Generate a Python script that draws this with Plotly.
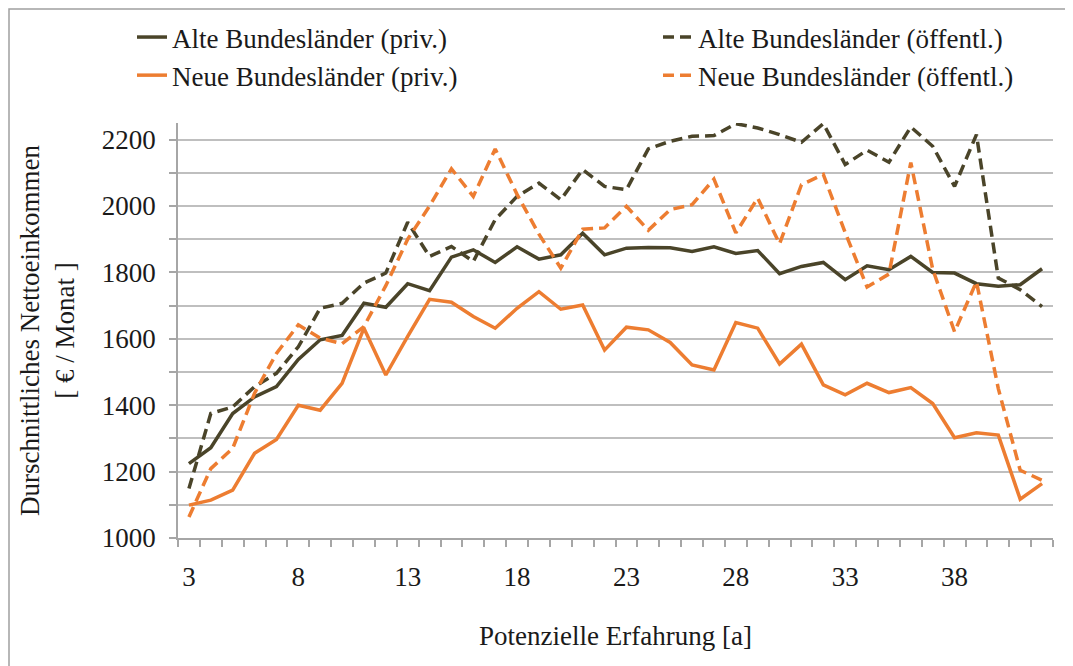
import plotly.graph_objects as go

experience = list(range(3, 43))

alte_priv = [1224, 1272, 1375, 1425, 1456, 1538, 1597, 1610, 1707, 1695,
             1766, 1745, 1846, 1868, 1830, 1877, 1840, 1853, 1918, 1853,
             1873, 1875, 1874, 1863, 1877, 1857, 1866, 1796, 1818, 1830,
             1778, 1820, 1808, 1848, 1800, 1798, 1766, 1758, 1763, 1811]

alte_oeff = [1149, 1375, 1395, 1456, 1496, 1576, 1692, 1707, 1768, 1798,
             1951, 1848, 1878, 1833, 1959, 2029, 2069, 2019, 2110, 2059,
             2049, 2172, 2195, 2210, 2212, 2248, 2235, 2215, 2192, 2248,
             2125, 2168, 2132, 2238, 2180, 2059, 2215, 1783, 1748, 1697]

neue_priv = [1099, 1114, 1144, 1255, 1297, 1400, 1385, 1466, 1632, 1491,
             1607, 1719, 1710, 1667, 1632, 1692, 1742, 1689, 1702, 1566,
             1635, 1627, 1589, 1521, 1506, 1649, 1632, 1524, 1584, 1461,
             1431, 1466, 1438, 1453, 1405, 1302, 1317, 1310, 1117, 1164]

neue_oeff = [1063, 1209, 1270, 1436, 1556, 1642, 1602, 1585, 1637, 1760,
             1900, 2000, 2112, 2029, 2172, 2035, 1915, 1813, 1930, 1934,
             1999, 1927, 1989, 2004, 2081, 1919, 2024, 1886, 2064, 2095,
             1920, 1756, 1795, 2131, 1810, 1621, 1772, 1450, 1204, 1174]

x_tickvals = [3, 8, 13, 18, 23, 28, 33, 38]

DARK = "#4A4429"
ORANGE = "#ED7D31"
FONT = "'Liberation Serif', 'Times New Roman', Times, serif"
FS = 27

fig = go.Figure()
fig.add_trace(go.Scatter(x=experience, y=alte_priv, mode="lines", name="Alte Bundesländer (priv.)",
                         line=dict(color=DARK, width=3.5), legend="legend"))
fig.add_trace(go.Scatter(x=experience, y=neue_priv, mode="lines", name="Neue Bundesländer (priv.)",
                         line=dict(color=ORANGE, width=3.5), legend="legend"))
fig.add_trace(go.Scatter(x=experience, y=alte_oeff, mode="lines", name="Alte Bundesländer (öffentl.)",
                         line=dict(color=DARK, width=3.5, dash="11px,6px"), legend="legend2"))
fig.add_trace(go.Scatter(x=experience, y=neue_oeff, mode="lines", name="Neue Bundesländer (öffentl.)",
                         line=dict(color=ORANGE, width=3.5, dash="11px,6px"), legend="legend2"))

# page body adds an 8px offset; figure sized to fit the window
OFF = 8
W, H = 1073 - OFF, 666 - OFF
L, T = 178 - OFF, 123 - OFF
R = W - (1053 - OFF)
B = H - (538 - OFF)
pw = W - L - R
ph = H - T - B

def px_x(p):
    return (p - OFF - L) / pw

def px_y(p):
    return (H - B - (p - OFF)) / ph

fig.update_layout(
    width=W, height=H,
    margin=dict(l=L, r=R, t=T, b=B, autoexpand=False),
    paper_bgcolor="white", plot_bgcolor="white",
    font=dict(family=FONT, size=FS, color="#1a1a1a"),
    legend=dict(x=px_x(132), y=px_y(13), xanchor="left", yanchor="top",
                font=dict(family=FONT, size=FS), bgcolor="rgba(0,0,0,0)",
                orientation="v", tracegroupgap=0),
    legend2=dict(x=px_x(658), y=px_y(13), xanchor="left", yanchor="top",
                 font=dict(family=FONT, size=FS), bgcolor="rgba(0,0,0,0)",
                 orientation="v", tracegroupgap=0),
    showlegend=True,
)

fig.update_xaxes(
    range=[2.5, 42.5],
    tickmode="array", tickvals=x_tickvals,
    ticks="", showgrid=False, zeroline=False,
    showline=True, linecolor="#A6A6A6", linewidth=1.5,
    tickfont=dict(family=FONT, size=FS),
    ticklabelstandoff=14,
    minor=dict(tick0=2.5, dtick=1, ticks="outside", ticklen=7, tickcolor="#A6A6A6",
               tickwidth=1.5, showgrid=False),
    title=dict(text="Potenzielle Erfahrung [a]", font=dict(family=FONT, size=FS), standoff=35),
)

fig.update_yaxes(
    range=[1000, 2250],
    tick0=1000, dtick=200,
    ticks="outside", ticklen=7, tickcolor="#A6A6A6", tickwidth=1.5,
    showgrid=True, gridcolor="#BFBFBF", gridwidth=1.5,
    zeroline=False,
    showline=True, linecolor="#A6A6A6", linewidth=1.5,
    tickfont=dict(family=FONT, size=FS),
    ticklabelstandoff=8,
    minor=dict(tick0=1000, dtick=100, ticks="outside", ticklen=7, tickcolor="#A6A6A6",
               tickwidth=1.5, showgrid=True, gridcolor="#BFBFBF", gridwidth=1.5),
    title=dict(text="Durschnittliches Nettoeinkommen<br>[ € / Monat ]",
               font=dict(family=FONT, size=FS), standoff=19),
)

# outer chart frame
fig.add_shape(type="rect", xref="paper", yref="paper",
              x0=px_x(OFF + 1), x1=px_x(1090), y0=px_y(700), y1=px_y(OFF + 1),
              line=dict(color="#A0A0A0", width=1.5), fillcolor="rgba(0,0,0,0)", layer="below")

fig.write_html("out.html")
